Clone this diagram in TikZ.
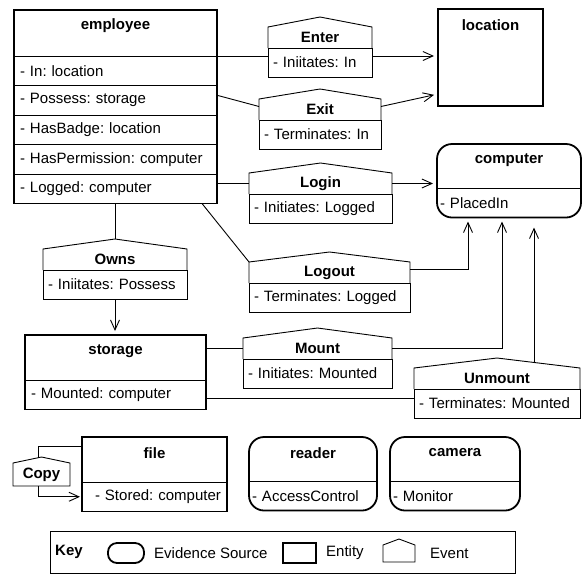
\documentclass[tikz,border=0pt]{standalone}
\usepackage{fontspec}
\setmainfont{Liberation Sans}
\usetikzlibrary{arrows.meta}
\tikzset{
  frame/.style={line width=1.8pt},
  sep/.style={line width=0.9pt},
  evline/.style={line width=0.9pt},
  conn/.style={line width=0.9pt},
  arr/.style={conn, -{Straight Barb[length=10pt,width=9pt]}, shorten >=4pt},
  box/.style={anchor=north west, inner sep=0pt, outer sep=0pt},
  ttl/.style={font=\bfseries, inner sep=0pt},
  row/.style={anchor=north west, outer sep=0pt, inner ysep=0pt, minimum height=29.5pt, align=left},
  evtitle/.style={anchor=north west, outer sep=0pt, inner sep=0pt, minimum height=21pt, font=\bfseries},
  evrow/.style={draw, evline, anchor=north west, outer sep=0pt, inner xsep=5pt, inner ysep=0pt, minimum height=29pt, align=left},
}
\begin{document}
\fontsize{15}{18}\selectfont\frenchspacing
\begin{tikzpicture}[x=1pt,y=-1pt]
\useasboundingbox (0,0) rectangle (585,574);

% entity header: name, x, y, width, height, title
\newcommand{\entityhead}[6]{
  \node[box, minimum width=#4, minimum height=#5] (#1) at (#2,#3) {};
  \node[ttl] (#1-t) at ([yshift=-16pt]#1.north) {#6};
}
% attribute row below a node: [xsep] name, above, width, text
\newcommand{\attrrow}[5][6]{
  \pgfmathsetmacro{\tw}{#4-2*#1}
  \node[row, inner xsep=#1pt, text width=\tw pt] (#2) at (#3.south west) {\mbox{#5}};
  \draw[sep] (#2.north west) -- (#2.north east);
}
% event: name, x, y (eaves), width, title, attribute
\newcommand{\evtbox}[6]{
  \pgfmathsetmacro{\tw}{#4-10}
  \node[evtitle, minimum width=#4] (#1) at (#2,#3) {#5};
  \node[evrow, text width=\tw pt] (#1-a) at (#1.south west) {\mbox{#6}};
  \coordinate (#1-p) at ([yshift=10pt]#1.north);
  \draw[evline] (#1-a.north west) -- (#1.north west) -- (#1-p) -- (#1.north east) -- (#1-a.north east);
}

% entities
\entityhead{employee}{14}{10}{203}{46}{employee}
\foreach \lbl [count=\i] in {In: location, Possess: storage, HasBadge: location, HasPermission: computer, Logged: computer} {
  \pgfmathtruncatemacro{\j}{\i-1}
  \ifnum\i=1
    \attrrow{employee-\i}{employee}{203}{- \lbl}
  \else
    \attrrow{employee-\i}{employee-\j}{203}{- \lbl}
  \fi
}
\draw[frame] (employee.north west) rectangle (employee-5.south east);

\entityhead{location}{438}{9}{105}{97}{location}
\draw[frame] (location.north west) rectangle (location.south east);

\entityhead{storage}{25}{335}{181}{45}{storage}
\attrrow{storage-r}{storage}{181}{- Mounted: computer}
\draw[frame] (storage.north west) rectangle (storage-r.south east);

\entityhead{file}{82}{437}{145}{45}{file}
\attrrow[13]{file-r}{file}{145}{- Stored: computer}
\draw[frame] (file.north west) rectangle (file-r.south east);

% evidence sources
\entityhead{computer}{437}{144}{144}{44}{computer}
\attrrow[3]{computer-r}{computer}{144}{- PlacedIn}
\draw[frame, rounded corners=15pt] (computer.north west) rectangle (computer-r.south east);

\entityhead{reader}{249}{437}{128}{44}{reader}
\attrrow[3]{reader-r}{reader}{128}{- AccessControl}
\draw[frame, rounded corners=15pt] (reader.north west) rectangle (reader-r.south east);

\entityhead{camera}{390}{437}{130}{44}{camera}
\attrrow[3]{camera-r}{camera}{130}{- Monitor}
\draw[frame, rounded corners=15pt] (camera.north west) rectangle (camera-r.south east);

% events
\evtbox{enter}{268}{27}{104}{Enter}{- Iniitates: In}
\evtbox{exit}{259}{99}{122}{Exit}{- Terminates: In}
\evtbox{login}{249}{173}{143}{Login}{- Initiates: Logged}
\evtbox{logout}{249}{262}{161}{Logout}{- Terminates: Logged}
\evtbox{owns}{43}{249}{144}{Owns}{- Iniitates: Possess}
\evtbox{mount}{243}{338}{149}{Mount}{- Initiates: Mounted}
\evtbox{unmount}{414}{368}{166}{Unmount}{- Terminates: Mounted}

\node[evtitle, minimum width=57, minimum height=23] (copy) at (13,463) {Copy};
\coordinate (copy-p) at ([yshift=6pt]copy.north);
\draw[evline] (copy.south west) -- (copy.north west) -- (copy-p) -- (copy.north east) -- (copy.south east) -- cycle;

% connectors
\draw[conn] (employee-1.north east) -- (employee-1.north east -| enter-a.west);
\draw[arr] (enter-a.east |- employee-1.north east) -- (location.west |- employee-1.north east);

\draw[conn] ([yshift=5pt]employee-2.east) -- ([yshift=3pt]exit.west);
\draw[arr] ([yshift=3pt]exit.east) -- ([yshift=12pt]location.south west);

\draw[conn] (employee-5.east |- login.west) -- (login.west);
\draw[arr] (login.east) -- (login.east -| computer.west);

\draw[conn] ([xshift=-15pt]employee-5.south east) -- (logout.north west);
\draw[arr] ([yshift=3pt]logout.east) -| ([xshift=31pt]computer-r.south west);

\draw[conn] (employee-5.south -| owns-p) -- (owns-p);
\draw[arr] (owns-a.south) -- (owns-a.south |- storage.north);

\draw[conn] (storage.east |- mount.west) -- (mount.west);
\draw[arr] (mount.east) -| ([xshift=65pt]computer-r.south west);

\coordinate (st-u) at ([yshift=-4pt]storage-r.east);
\draw[conn] (st-u) -- (st-u -| unmount-a.west);
\coordinate (um-s) at ([xshift=37pt,yshift=5pt]unmount.north);
\draw[arr, shorten >=10pt] (um-s) -- (um-s |- computer-r.south);

\draw[conn] ([yshift=13pt]file.west) -| ([xshift=-3pt]copy-p);
\draw[arr, shorten >=2pt] ([xshift=-3pt]copy.south) |- (file-r.west);

% key
\node[box, draw, evline, minimum width=465, minimum height=42] (key) at (50,531) {};
\node[ttl, anchor=west] (key-t) at ([xshift=5pt]key.west) {Key};
\node[box, draw, frame, rounded corners=9pt, minimum width=36, minimum height=20] (key-src) at (108,543) {};
\node[anchor=west, inner sep=0pt] (key-srct) at ([xshift=10pt]key-src.east) {Evidence Source};
\node[box, draw, frame, minimum width=33, minimum height=20] (key-ent) at (283,543) {};
\node[anchor=west, inner sep=0pt] (key-entt) at ([xshift=10pt]key-ent.east) {Entity};
\node[box, minimum width=32, minimum height=17] (key-ev) at (383,545) {};
\draw[evline] (key-ev.south west) -- (key-ev.north west) -- ([yshift=6pt]key-ev.north) -- (key-ev.north east) -- (key-ev.south east) -- cycle;
\node[anchor=west, inner sep=0pt] (key-evt) at ([xshift=15pt]key-ev.east) {Event};
\end{tikzpicture}
\end{document}
